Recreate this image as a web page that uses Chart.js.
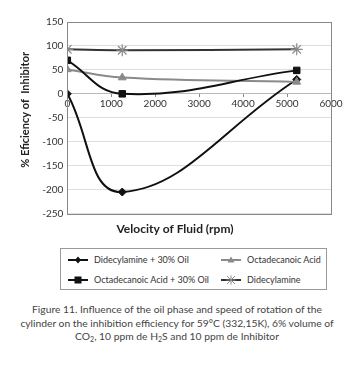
<!DOCTYPE html>
<html>
<head>
<meta charset="utf-8">
<script src="https://cdn.jsdelivr.net/npm/chart.js@4"></script>
<style>
  body { margin: 0; background: #fff; }
  #wrap { position: relative; width: 354px; height: 368px; overflow: hidden; }
  #chartBox { position: absolute; left: 0; top: 0; width: 354px; height: 240px; }
  #legend {
    position: absolute; left: 60px; top: 248px; width: 265px; height: 40px;
    border: 1px solid #999; font-family: Lato, sans-serif; font-size: 9px; color: #333;
  }
  .item { position: absolute; display: flex; align-items: center; white-space: nowrap; }
  .item svg { margin-right: 6px; }
  #caption {
    position: absolute; left: 0; top: 303px; width: 354px; text-align: center;
    font-family: Lato, sans-serif; font-size: 10.3px; line-height: 13.7px; color: #444; white-space: nowrap;
  }
  #caption sub { font-size: 7px; vertical-align: -2px; line-height: 0; }
</style>
</head>
<body>
<div id="wrap">
  <div id="chartBox"><canvas id="effChart" width="354" height="240"></canvas></div>
  <div id="legend"></div>
  <div id="caption">Figure 11. Influence of the oil phase and speed of rotation of the<br>cylinder on the inhibition efficiency for 59°C (332,15K), 6% volume of<br>CO<sub>2</sub>, 10 ppm de H<sub>2</sub>S and 10 ppm de Inhibitor</div>
</div>
<script>
// data
const velocity = [0, 1250, 5220];
const didecylOil = [0, -205, 30];
const octadecanoic = [51, 34, 25];
const octadecanoicOil = [70, 0, 49];
const didecylamine = [93, 91, 93];
const seriesNames = ["Didecylamine + 30% Oil", "Octadecanoic Acid", "Octadecanoic Acid + 30% Oil", "Didecylamine"];
const yTicks = [-250, -200, -150, -100, -50, 0, 50, 100, 150];
const xTicks = [0, 1000, 2000, 3000, 4000, 5000, 6000];

function pts(vals) {
    return velocity.map((v, i) => ({ x: v, y: vals[i] }));
}

const styles = [
    { line: "#111", point: "#111", shape: "rectRot", r: 4 },
    { line: "#8a8a8a", point: "#8a8a8a", shape: "triangle", r: 4.5 },
    { line: "#111", point: "#111", shape: "rect", r: 4.6 },
    { line: "#333", point: "#8a8a8a", shape: "star", r: 6 }
];
const values = [didecylOil, octadecanoic, octadecanoicOil, didecylamine];

// plot frame like the Excel box
const frame = {
    id: "frame",
    afterDraw(c) {
        const a = c.chartArea, ctx = c.ctx;
        ctx.save();
        ctx.strokeStyle = "#888";
        ctx.lineWidth = 1;
        ctx.strokeRect(Math.round(a.left) + 0.5, Math.round(a.top) + 0.5, Math.round(a.right - a.left), Math.round(a.bottom - a.top));
        ctx.restore();
    }
};

const chart = new Chart(document.getElementById("effChart"), {
    type: "line",
    data: {
        datasets: seriesNames.map((name, i) => ({
            label: name,
            data: pts(values[i]),
            borderColor: styles[i].line,
            backgroundColor: styles[i].point,
            pointBackgroundColor: styles[i].point,
            pointBorderColor: styles[i].point,
            pointStyle: styles[i].shape,
            pointRadius: styles[i].r,
            pointBorderWidth: i === 3 ? 1.2 : 1,
            borderWidth: 2,
            tension: 0.42,
            fill: false,
            order: 3 - i
        }))
    },
    options: {
        responsive: false,
        animation: false,
        maintainAspectRatio: false,
        layout: { padding: { top: 22, right: 23, left: 19, bottom: 0 } },
        plugins: {
            legend: { display: false },
            tooltip: { enabled: false },
            title: {
                display: true,
                position: "bottom",
                text: "Velocity of Fluid (rpm)",
                color: "#222",
                font: { family: "Lato", size: 12, weight: "bold" },
                padding: { top: 8, bottom: 4 }
            }
        },
        scales: {
            x: {
                type: "linear",
                position: { y: 0 },
                min: 0,
                max: 6000,
                afterBuildTicks: s => { s.ticks = xTicks.map(v => ({ value: v })); },
                ticks: { color: "#333", font: { family: "Lato", size: 10 }, padding: 1, maxRotation: 0, autoSkip: false, callback: v => String(v) },
                grid: { drawOnChartArea: false, color: "#888", tickLength: 3 },
                border: { display: true, color: "#bbb" }
            },
            y: {
                min: -250,
                max: 150,
                afterBuildTicks: s => { s.ticks = yTicks.map(v => ({ value: v })); },
                ticks: { color: "#333", font: { family: "Lato", size: 10 }, padding: 4, autoSkip: false, callback: v => String(v) },
                grid: { color: "#dedede", drawTicks: false },
                border: { display: true, color: "#666" },
                title: {
                    display: true,
                    text: "      % Eficiency of  Inhibitor",
                    color: "#222",
                    font: { family: "Lato", size: 11, weight: "bold" },
                    padding: { top: 0, bottom: 6 }
                }
            }
        }
    },
    plugins: [frame]
});

// legend in the boxed two-column layout
const legendPos = [[7, 10], [160, 10], [7, 30], [160, 30]];
const legendOrder = [0, 1, 2, 3];
const legendEl = document.getElementById("legend");
function markerSvg(s) {
    const c = s.point, cx = 10, cy = 5;
    let m = "";
    if (s.shape === "rectRot") m = `<polygon points="${cx},${cy - 3.5} ${cx + 3},${cy} ${cx},${cy + 3.5} ${cx - 3},${cy}" fill="${c}"/>`;
    if (s.shape === "triangle") m = `<polygon points="${cx},${cy - 3.5} ${cx + 3.5},${cy + 2.5} ${cx - 3.5},${cy + 2.5}" fill="${c}"/>`;
    if (s.shape === "rect") m = `<rect x="${cx - 3.5}" y="${cy - 3.5}" width="7" height="7" fill="${c}"/>`;
    if (s.shape === "star") m = `<path d="M${cx - 4} ${cy - 4}L${cx + 4} ${cy + 4}M${cx + 4} ${cy - 4}L${cx - 4} ${cy + 4}M${cx} ${cy - 4.5}V${cy + 4.5}M${cx - 4.5} ${cy}H${cx + 4.5}" stroke="${c}" stroke-width="1"/>`;
    return `<svg width="20" height="10"><line x1="0" y1="5" x2="20" y2="5" stroke="${s.line}" stroke-width="2"/>${m}</svg>`;
}
legendOrder.forEach((k, j) => {
    const d = document.createElement("div");
    d.className = "item";
    d.style.left = legendPos[j][0] + "px";
    d.style.top = (legendPos[j][1] - 5) + "px";
    d.innerHTML = markerSvg(styles[k]) + "<span>" + seriesNames[k] + "</span>";
    legendEl.appendChild(d);
});
</script>
</body>
</html>
